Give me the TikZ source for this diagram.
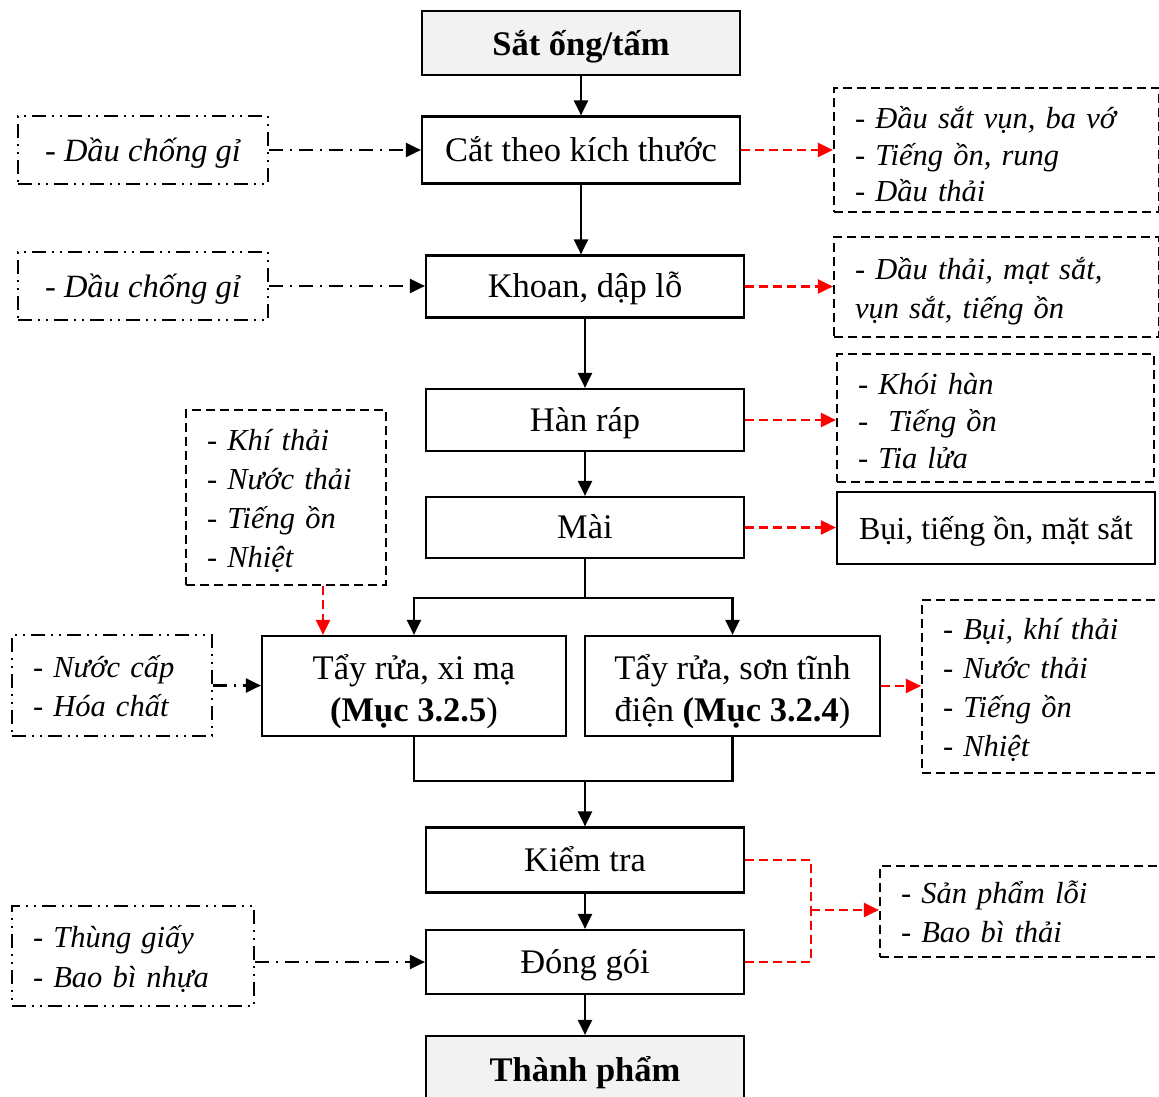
\documentclass[tikz,border=0pt]{standalone}
\usepackage{fontspec}
\setmainfont{Liberation Serif}
\usetikzlibrary{arrows.meta}
\definecolor{stagegray}{HTML}{F2F2F2}
\begin{document}
\begin{tikzpicture}[x=1pt,y=-1pt,
  font=\fontsize{34.5}{40}\selectfont,
  boxsize/.style 2 args={minimum width=#1pt,minimum height=#2pt},
  % one-line boxes: fixed text height/depth so every baseline sits alike
  oneline/.style={text height=28pt,text depth=6pt},
  % multi-line boxes: struts on the first and last line
  struts/.style 2 args={execute at begin node={\rule{0pt}{#1pt}},
    execute at end node={\rule[-#2pt]{0pt}{#2pt}}},
  stage/.style={draw,line width=2.2pt,inner sep=0pt,align=center},
  endstage/.style={stage,text height=32pt,text depth=6pt,fill=stagegray,
    font=\fontsize{34.5}{40}\selectfont\bfseries},
  listfont/.style={font=\fontsize{30.5}{#1}\selectfont\itshape},
  wastebox/.style={draw,line width=2.2pt,dash pattern=on 9pt off 5pt,
    inner xsep=21pt,inner ysep=0pt,align=left,struts={33}{10}},
  inputbox/.style={draw,line width=2.2pt,
    dash pattern=on 14pt off 6pt on 2pt off 6pt on 2pt off 6pt,
    inner xsep=21pt,inner ysep=0pt,align=left,struts={33}{10}},
  flow/.style={line width=2.2pt,-{Triangle[length=15pt,width=14pt]}},
  line/.style={line width=2.2pt},
  emit/.style={line width=2.2pt,red,dash pattern=on 9pt off 5pt},
  emitarrow/.style={emit,-{Triangle[length=15pt,width=14pt]}},
  feed/.style={line width=2.2pt,dash pattern=on 14pt off 7pt on 2pt off 7pt,
    -{Triangle[length=15pt,width=14pt]}}
]
\useasboundingbox (0,0) rectangle (1159,1097);

% main process chain
\node[endstage,boxsize={318}{64}] (sat) at (581,43) {Sắt ống/tấm};
\node[stage,oneline,boxsize={318}{67}] (cat) at (581,150) {Cắt theo kích thước};
\node[stage,oneline,boxsize={318}{62}] (khoan) at (585,286.5) {Khoan, dập lỗ};
\node[stage,oneline,boxsize={318}{62}] (han) at (585,420) {Hàn ráp};
\node[stage,oneline,boxsize={318}{61}] (mai) at (585,527.5) {Mài};
\node[stage,align=flush center,struts={39}{10},text width=304pt,minimum height=100pt,
  font=\fontsize{34.5}{42}\selectfont] (xima) at (414,686)
  {Tẩy rửa, xi mạ\\\textbf{(Mục 3.2.5})};
\node[stage,align=flush center,struts={39}{10},text width=295pt,minimum height=100pt,
  font=\fontsize{34.5}{42}\selectfont] (son) at (732.5,686)
  {Tẩy rửa, sơn tĩnh\\điện \textbf{(Mục 3.2.4})};
\node[stage,oneline,boxsize={318}{65}] (kiem) at (585,860) {Kiểm tra};
\node[stage,oneline,boxsize={318}{64}] (dong) at (585,962) {Đóng gói};
\node[endstage,boxsize={318}{64}] (thanh) at (585,1068) {Thành phẩm};

% inputs
\node[inputbox,oneline,boxsize={250}{68},inner xsep=0pt,align=center,
  font=\fontsize{32.5}{38}\selectfont\itshape] (d1) at (143,150) {- Dầu chống gỉ};
\node[inputbox,oneline,boxsize={250}{68},inner xsep=0pt,align=center,
  font=\fontsize{32.5}{38}\selectfont\itshape] (d2) at (143,286) {- Dầu chống gỉ};
\node[inputbox,listfont=39,text width=158pt,minimum height=101pt] (nc) at (112,685.5)
  {- Nước cấp\\- Hóa chất};
\node[inputbox,listfont=40,text width=200pt,minimum height=100pt] (tg) at (133,956)
  {- Thùng giấy\\- Bao bì nhựa};

% wastes and emissions
\node[wastebox,listfont=38.7,text width=158pt,minimum height=175pt] (khi) at (286,497.5)
  {- Khí thải\\- Nước thải\\- Tiếng ồn\\- Nhiệt};
\node[wastebox,struts={41}{10},listfont=36.5,text width=283pt,minimum height=124pt] (r1) at (996.5,150)
  {- Đầu sắt vụn, ba vớ\\- Tiếng ồn, rung\\- Dầu thải};
\node[wastebox,listfont=39,text width=283pt,minimum height=100pt] (r2) at (996.5,287)
  {- Dầu thải, mạt sắt,\\vụn sắt, tiếng ồn};
\node[wastebox,struts={36}{10},listfont=37,text width=275pt,minimum height=128pt] (r3) at (995.5,418)
  {- Khói hàn\\- \ Tiếng ồn\\- Tia lửa};
\node[stage,oneline,boxsize={318}{72},font=\fontsize{32}{38}\selectfont] (r4) at (996,528)
  {Bụi, tiếng ồn, mặt sắt};
\node[wastebox,listfont=38.7,text width=198pt,minimum height=173pt] (r5) at (1042,686.5)
  {- Bụi, khí thải\\- Nước thải\\- Tiếng ồn\\- Nhiệt};
\node[wastebox,listfont=39,text width=240pt,minimum height=91pt] (r6) at (1021,911.5)
  {- Sản phẩm lỗi\\- Bao bì thải};

% main flow
\draw[flow] (sat) -- (cat);
\draw[flow] (cat.south) -- (cat.south |- khoan.north);
\draw[flow] (khoan) -- (han);
\draw[flow] (han) -- (mai);
\coordinate (spl) at (585,598);
\draw[line] (mai.south) -- (spl);
\draw[flow] (spl) -| (xima.north);
\draw[flow] (spl) -| (son.north);
\coordinate (mrg) at (585,781);
\draw[line] (xima.south) |- (mrg);
\draw[line] (son.south) |- (mrg);
\draw[flow] (mrg) -- (kiem.north);
\draw[flow] (kiem) -- (dong);
\draw[flow] (dong) -- (thanh);

% material inputs
\draw[feed] (d1) -- (cat);
\draw[feed] (d2.east) -- (d2.east -| khoan.west);
\draw[feed] (nc.east) -- (nc.east -| xima.west);
\draw[feed] (dong.west -| tg.east) -- (dong.west);

% emissions
\draw[emitarrow] (cat.east) -- (cat.east -| r1.west);
\draw[emitarrow] (khoan.east) -- (khoan.east -| r2.west);
\draw[emitarrow] (han.east) -- (han.east -| r3.west);
\draw[emitarrow] (mai.east) -- (mai.east -| r4.west);
\draw[emitarrow] (son.east) -- (son.east -| r5.west);
\path ([xshift=37pt]khi.south) coordinate (k1);
\draw[emitarrow] (k1) -- (k1 |- xima.north);
\coordinate (jn) at (811,910);
\draw[emit] (kiem.east) -| (jn);
\draw[emit] (dong.east) -| (jn);
\draw[emitarrow] (jn) -- (jn -| r6.west);
\end{tikzpicture}
\end{document}
